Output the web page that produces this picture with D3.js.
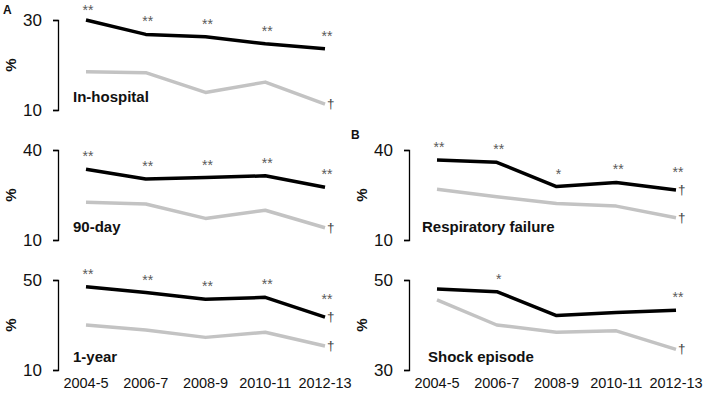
<!DOCTYPE html>
<html>
<head>
<meta charset="utf-8">
<script src="https://cdn.jsdelivr.net/npm/d3@7"></script>
<style>
  html, body { margin: 0; padding: 0; background: #fff; }
  svg { display: block; font-family: "Liberation Sans", Arial, sans-serif; }
</style>
</head>
<body>
<svg id="chart" width="709" height="402"></svg>
<script>
// ---- data ----
const years = ["2004-5", "2006-7", "2008-9", "2010-11", "2012-13"];

const inHospitalBlack = [30.0, 26.8, 26.3, 24.7, 23.6];
const inHospitalGray  = [18.5, 18.3, 13.9, 16.2, 11.3];
const inHospitalStars = ["**", "**", "**", "**", "**"];
const inHospitalTicks = [10, 30];

const day90Black = [33.6, 30.3, 30.8, 31.4, 27.6];
const day90Gray  = [22.6, 22.0, 17.2, 19.9, 14.1];
const day90Stars = ["**", "**", "**", "**", "**"];
const day90Ticks = [10, 40];

const year1Black = [47.0, 44.4, 41.4, 42.3, 33.5];
const year1Gray  = [30.0, 27.8, 24.5, 26.8, 20.7];
const year1Stars = ["**", "**", "**", "**", "**"];
const year1Ticks = [10, 50];

const respBlack = [36.7, 35.9, 27.8, 29.2, 26.7];
const respGray  = [26.9, 24.4, 22.2, 21.3, 17.4];
const respStars = ["**", "**", "*", "**", "**"];
const respTicks = [10, 40];

const shockBlack = [48.0, 47.4, 42.1, 42.8, 43.3];
const shockGray  = [45.6, 40.0, 38.4, 38.7, 34.6];
const shockStars = ["", "*", "", "", "**"];
const shockTicks = [30, 50];

// ---- panels (layout) ----
const panels = [
  {title: "In-hospital", black: inHospitalBlack, gray: inHospitalGray, stars: inHospitalStars, ticks: inHospitalTicks,
   daggerBlack: false, daggerGray: true, col: 0, row: 0, titleDx: 15},
  {title: "90-day", black: day90Black, gray: day90Gray, stars: day90Stars, ticks: day90Ticks,
   daggerBlack: false, daggerGray: true, col: 0, row: 1, titleDx: 15},
  {title: "1-year", black: year1Black, gray: year1Gray, stars: year1Stars, ticks: year1Ticks,
   daggerBlack: true, daggerGray: true, col: 0, row: 2, titleDx: 15},
  {title: "Respiratory failure", black: respBlack, gray: respGray, stars: respStars, ticks: respTicks,
   daggerBlack: true, daggerGray: true, col: 1, row: 1, titleDx: 13},
  {title: "Shock episode", black: shockBlack, gray: shockGray, stars: shockStars, ticks: shockTicks,
   daggerBlack: false, daggerGray: true, col: 1, row: 2, titleDx: 19}
];

const svg = d3.select("#chart");
const colAxisX = [58, 409];
const colX0 = [86, 437];
const xSpan = 239;
const rowTop = [20, 150, 280];
const panelH = 90;

panels.forEach(p => {
  const axisX = colAxisX[p.col];
  const top = rowTop[p.row];
  const x = d3.scalePoint().domain(years).range([colX0[p.col], colX0[p.col] + xSpan]);
  const y = d3.scaleLinear().domain(p.ticks).range([top + panelH, top]);
  const g = svg.append("g");
  const last = years.length - 1;

  // axis (bracket)
  const ax = g.append("g").attr("transform", `translate(${axisX},0)`)
    .call(d3.axisLeft(y).tickValues(p.ticks).tickSizeInner(5).tickSizeOuter(5).tickPadding(11).tickFormat(d3.format("d")));
  ax.select(".domain").attr("stroke", "#000").attr("stroke-width", 1.3);
  ax.selectAll(".tick line").attr("stroke", "#000").attr("stroke-width", 1.3);
  ax.selectAll(".tick text").attr("font-size", 17).attr("fill", "#111")
    .attr("font-family", "'Liberation Sans', Arial, sans-serif");

  // % label
  g.append("text")
    .attr("transform", `translate(${axisX - 47},${top + panelH / 2}) rotate(-90)`)
    .attr("text-anchor", "middle").attr("dy", "0.35em")
    .attr("font-size", 15).attr("font-weight", "bold").attr("fill", "#111")
    .text("%");

  const line = d3.line().x((d, i) => x(years[i])).y(d => y(d));

  g.append("path").datum(p.gray).attr("d", line)
    .attr("fill", "none").attr("stroke", "#c3c3c3").attr("stroke-width", 3.5)
    .attr("stroke-linejoin", "round");
  g.append("path").datum(p.black).attr("d", line)
    .attr("fill", "none").attr("stroke", "#000").attr("stroke-width", 3.5)
    .attr("stroke-linejoin", "round");

  // significance stars (raised where a dagger sits beside the point)
  g.selectAll("text.star").data(p.stars).enter().append("text")
    .attr("class", "star")
    .attr("x", (d, i) => x(years[i]) + 2)
    .attr("y", (d, i) => {
      const off = (i === last && p.daggerBlack) ? 13 : 8;
      return Math.max(y(p.black[i]) - off, 15);
    })
    .attr("text-anchor", "middle")
    .attr("font-size", 14).attr("fill", "#5a5a5a")
    .text(d => d);

  // daggers
  if (p.daggerBlack) {
    g.append("text").attr("x", x(years[last]) + 2).attr("y", y(p.black[last]) + 4)
      .attr("font-size", 13.5).attr("fill", "#444").text("\u2020");
  }
  if (p.daggerGray) {
    g.append("text").attr("x", x(years[last]) + 2).attr("y", y(p.gray[last]) + 4)
      .attr("font-size", 13.5).attr("fill", "#444").text("\u2020");
  }

  // panel title
  g.append("text").attr("x", axisX + p.titleDx).attr("y", top + panelH - 8)
    .attr("font-size", 15).attr("font-weight", "bold").attr("fill", "#111")
    .text(p.title);

  // x axis labels on bottom row
  if (p.row === 2) {
    g.selectAll("text.xl").data(years).enter().append("text")
      .attr("class", "xl")
      .attr("x", d => x(d)).attr("y", 388)
      .attr("text-anchor", "middle").attr("font-size", 14.5).attr("fill", "#111")
      .text(d => d);
  }
});

// panel letters
svg.append("text").attr("x", 3).attr("y", 14).attr("font-size", 12).attr("font-weight", "bold").attr("fill", "#111").text("A");
svg.append("text").attr("x", 351).attr("y", 139).attr("font-size", 12).attr("font-weight", "bold").attr("fill", "#111").text("B");
</script>
</body>
</html>
